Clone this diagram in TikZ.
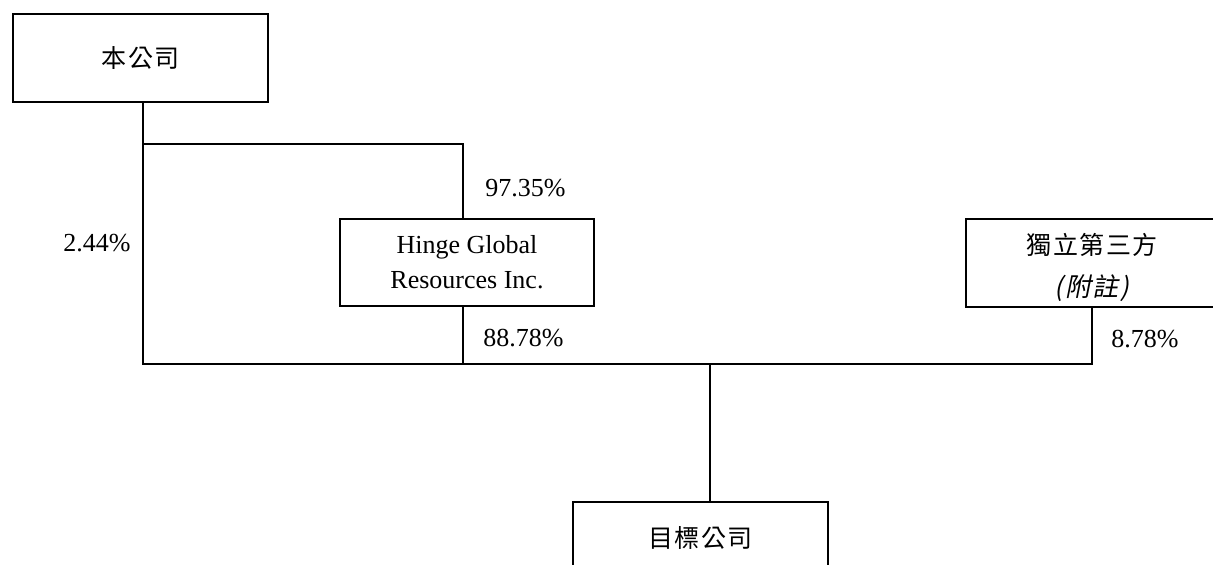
\documentclass[tikz,border=0pt]{standalone}
\usepackage{fontspec}
\setmainfont{Liberation Serif}
\newfontfamily\cjk[LetterSpace=6]{Noto Sans CJK TC}
\newfontfamily\cjkit[FakeSlant=0.2,LetterSpace=6]{Noto Sans CJK TC}
\tikzset{
  entity/.style={draw, line width=1.3pt, fill=white, align=center, inner sep=0pt,
    font=\fontsize{13pt}{17.5pt}\selectfont},
  link/.style={line width=1.3pt, line join=miter},
  pct/.style={inner sep=0pt, font=\fontsize{13pt}{15pt}\selectfont}
}
\begin{document}
\begin{tikzpicture}[x=0.5pt,y=-0.5pt]
\useasboundingbox (0,0) rectangle (1213,565);
\clip (0,0) rectangle (1213,565);
% boxes
\node[entity, minimum width=127.5pt, minimum height=44pt] (co) at (140.5,58) {\cjk\fontsize{12.5pt}{15pt}\selectfont 本公司};
\node[entity, minimum width=127pt, minimum height=43.5pt] (hinge) at (467,262.5) {Hinge Global\\Resources Inc.};
\node[entity, minimum width=126pt, minimum height=44pt] (ind) at (1092,263) {\cjk\fontsize{12.5pt}{15pt}\selectfont \rule{0pt}{15.5pt}獨立第三方\\[3.5pt]{\cjkit (附註)}};
\node[entity, minimum width=127.5pt, minimum height=36pt] (tgt) at (700.5,538) {\cjk\fontsize{12.5pt}{15pt}\selectfont 目標公司};
% junction points
\coordinate (br) at (143,144);
\coordinate (ml) at (143,364);
\coordinate (mr) at (1092,364);
% connectors
\draw[link] ([xshift=1.25pt]co.south) -- (ml) -- (mr) -- (ind.south);
\draw[link] (br) -| ([xshift=-2pt]hinge.north);
\draw[link] ([xshift=-2pt]hinge.south) -- ([xshift=-2pt]hinge.south |- ml);
\draw[link] ([xshift=4.75pt]tgt.north) -- ([xshift=4.75pt]tgt.north |- ml);
% labels
\node[pct, anchor=west] (l1) at (485,188) {97.35\%};
\node[pct, anchor=west] (l2) at (483,338) {88.78\%};
\node[pct, anchor=east] (l3) at (131,243) {2.44\%};
\node[pct, anchor=west] (l4) at (1111,339) {8.78\%};
\end{tikzpicture}
\end{document}
